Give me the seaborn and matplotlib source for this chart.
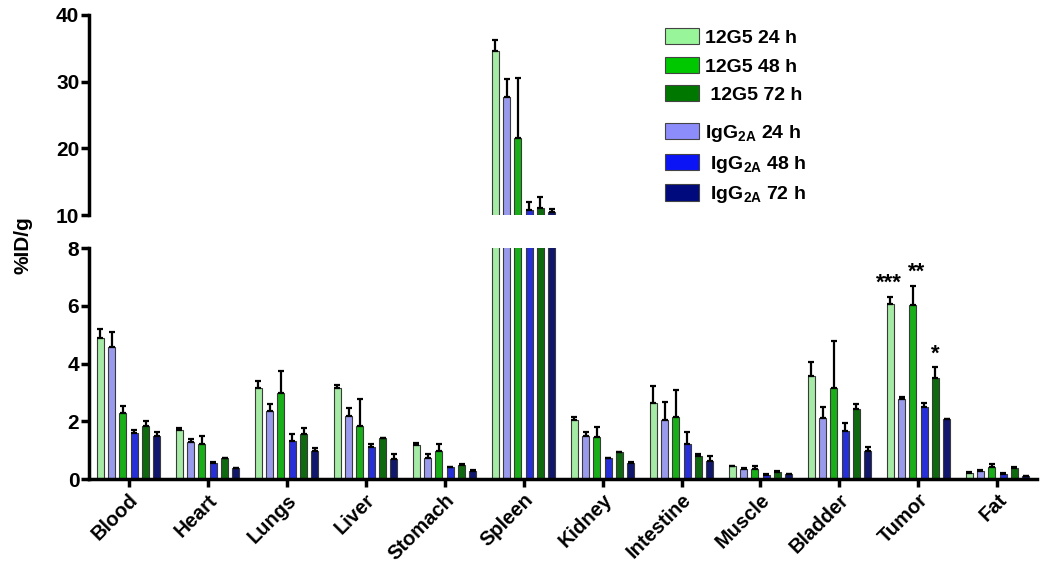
import numpy as np
import pandas as pd
import matplotlib
matplotlib.use("Agg")
import matplotlib.pyplot as plt
import seaborn as sns
from matplotlib.patches import Patch

# ------------------------------------------------------------------
# Daten (%ID/g, Mittelwert und Fehler nach oben)
# ------------------------------------------------------------------
organs = ["Blood", "Heart", "Lungs", "Liver", "Stomach", "Spleen",
          "Kidney", "Intestine", "Muscle", "Bladder", "Tumor", "Fat"]

g5_24 = [4.88, 1.72, 3.15, 3.15, 1.19, 34.6, 2.05, 2.63, 0.45, 3.58, 6.07, 0.21]
g5_24_err = [0.32, 0.06, 0.26, 0.11, 0.06, 1.6, 0.12, 0.58, 0.02, 0.46, 0.25, 0.03]
igg_24 = [4.57, 1.28, 2.35, 2.20, 0.73, 27.75, 1.50, 2.05, 0.36, 2.13, 2.77, 0.28]
igg_24_err = [0.54, 0.13, 0.26, 0.26, 0.14, 2.7, 0.15, 0.64, 0.02, 0.38, 0.06, 0.03]
g5_48 = [2.31, 1.22, 2.98, 1.86, 0.97, 21.6, 1.46, 2.17, 0.36, 3.15, 6.04, 0.42]
g5_48_err = [0.24, 0.28, 0.77, 0.91, 0.25, 8.9, 0.34, 0.92, 0.10, 1.63, 0.65, 0.12]
igg_48 = [1.59, 0.55, 1.33, 1.10, 0.42, 10.75, 0.72, 1.23, 0.15, 1.67, 2.49, 0.18]
igg_48_err = [0.11, 0.04, 0.25, 0.11, 0.02, 1.25, 0.02, 0.42, 0.02, 0.29, 0.16, 0.04]
g5_72 = [1.83, 0.72, 1.57, 1.42, 0.51, 11.05, 0.93, 0.80, 0.24, 2.42, 3.52, 0.38]
g5_72_err = [0.17, 0.03, 0.22, 0.02, 0.02, 1.7, 0.03, 0.08, 0.03, 0.18, 0.36, 0.04]
igg_72 = [1.50, 0.38, 0.97, 0.69, 0.28, 10.4, 0.58, 0.63, 0.17, 0.97, 2.08, 0.10]
igg_72_err = [0.13, 0.02, 0.10, 0.19, 0.04, 0.5, 0.02, 0.18, 0.03, 0.14, 0.0, 0.01]

groups = ["12G5 24 h", "IgG2A 24 h", "12G5 48 h", "IgG2A 48 h", "12G5 72 h", "IgG2A 72 h"]
colors = ["#99f599", "#8c8cfa", "#00c800", "#0a14f5", "#007800", "#000a7d"]

# Signifikanz-Sterne (Tumor)
star_organ = "Tumor"
star_groups = ["12G5 24 h", "12G5 48 h", "12G5 72 h"]
star_labels = ["***", "**", "*"]

# ------------------------------------------------------------------
# Long-Format Tabelle
# ------------------------------------------------------------------
means = [g5_24, igg_24, g5_48, igg_48, g5_72, igg_72]
errs = [g5_24_err, igg_24_err, g5_48_err, igg_48_err, g5_72_err, igg_72_err]
rows = []
for grp, m, e in zip(groups, means, errs):
    for org, v, ev in zip(organs, m, e):
        rows.append({"organ": org, "group": grp, "value": v, "err": ev})
df = pd.DataFrame(rows)
palette = dict(zip(groups, colors))

sns.set_theme(style="white")
plt.rcParams["font.family"] = ["Liberation Sans", "DejaVu Sans"]
plt.rcParams["font.weight"] = "bold"
plt.rcParams["text.color"] = "black"
plt.rcParams["axes.labelcolor"] = "black"
plt.rcParams["xtick.color"] = "black"
plt.rcParams["ytick.color"] = "black"
plt.rcParams["mathtext.fontset"] = "custom"
plt.rcParams["mathtext.bf"] = "Liberation Sans:bold"
plt.rcParams["mathtext.rm"] = "Liberation Sans:bold"
plt.rcParams["mathtext.default"] = "bf"

fig = plt.figure(figsize=(10.5, 5.66), dpi=100)
ax_top = fig.add_axes([0.0848, 0.6201, 0.9028, 0.3534])
ax_bot = fig.add_axes([0.0848, 0.1532, 0.9028, 0.4086])


def draw_bars(ax):
    sns.barplot(data=df, x="organ", y="value", hue="group", order=organs,
                hue_order=groups, palette=palette, errorbar=None,
                width=0.86, gap=0.38, edgecolor="#3a3a3a", linewidth=0.8,
                legend=False, ax=ax)
    # Fehlerbalken (nur nach oben) an den Balkenpositionen
    for grp, cont in zip(groups, ax.containers):
        sub = df[df["group"] == grp].set_index("organ").loc[organs]
        xs = [p.get_x() + p.get_width() / 2 for p in cont.patches]
        ax.errorbar(xs, sub["value"].values,
                    yerr=[np.zeros(len(xs)), sub["err"].values],
                    fmt="none", ecolor="black", elinewidth=1.6,
                    capsize=2.5, capthick=1.6, zorder=3)
    return ax


draw_bars(ax_top)
draw_bars(ax_bot)

for ax in (ax_top, ax_bot):
    ax.set_xlim(-0.5, 11.5)
    ax.set_xlabel("")
    ax.set_ylabel("")
    for s in ("top", "right"):
        ax.spines[s].set_visible(False)
    ax.spines["left"].set_linewidth(2.5)
    ax.spines["left"].set_color("black")
    ax.tick_params(axis="y", direction="out", length=6, width=2.5,
                   labelsize=15, pad=1, left=True)

ax_top.set_ylim(10, 40)
ax_top.set_yticks([10, 20, 30, 40])
ax_top.spines["bottom"].set_visible(False)
ax_top.set_xticks([])

ax_bot.set_ylim(0, 8)
ax_bot.set_yticks([0, 2, 4, 6, 8])
ax_bot.spines["bottom"].set_linewidth(2.5)
ax_bot.spines["bottom"].set_color("black")
ax_bot.tick_params(axis="x", direction="out", length=6, width=2.5,
                   labelsize=14.5, bottom=True, pad=2)
ax_bot.set_xticks(range(len(organs)))
ax_bot.set_xticklabels(organs, rotation=45, ha="right", rotation_mode="anchor",
                       fontweight="bold")
for lab in ax_top.get_yticklabels() + ax_bot.get_yticklabels():
    lab.set_fontweight("bold")

# Sterne ueber den Tumor-Balken
oi = organs.index(star_organ)
star_dx = [-0.01, 0.05, 0.0]
for grp, lab, dx in zip(star_groups, star_labels, star_dx):
    gi = groups.index(grp)
    p = ax_bot.containers[gi].patches[oi]
    sub = df[(df["group"] == grp) & (df["organ"] == star_organ)].iloc[0]
    ax_bot.text(p.get_x() + p.get_width() / 2 + dx, sub["value"] + sub["err"] + 0.1,
                lab, ha="center", va="bottom", fontsize=16, fontweight="bold")

fig.text(0.022, 0.567, "%ID/g", rotation=90, ha="center", va="center",
         fontsize=15, fontweight="bold")

# Legende in zwei Bloecken
leg_names = [r"12G5 24 h", r"12G5 48 h", r" 12G5 72 h",
             r"IgG$_{2A}$ 24 h", r" IgG$_{2A}$ 48 h", r" IgG$_{2A}$ 72 h"]
leg_keys = ["12G5 24 h", "12G5 48 h", "12G5 72 h",
            "IgG2A 24 h", "IgG2A 48 h", "IgG2A 72 h"]
handles = [Patch(facecolor=palette[k], edgecolor="#444444", linewidth=0.8)
           for k in leg_keys]
leg_kw = dict(frameon=False, fontsize=14, handlelength=1.75, handleheight=0.9,
              handletextpad=0.3, labelspacing=0.5, borderaxespad=0,
              borderpad=0)
leg1 = fig.legend(handles[:3], leg_names[:3], loc="upper left",
                  bbox_to_anchor=(0.633, 0.950), **leg_kw)
leg2 = fig.legend(handles[3:], leg_names[3:], loc="upper left",
                  bbox_to_anchor=(0.633, 0.783), **leg_kw)
for leg in (leg1, leg2):
    for t in leg.get_texts():
        t.set_fontweight("bold")

fig.savefig("out.png", dpi=100)
